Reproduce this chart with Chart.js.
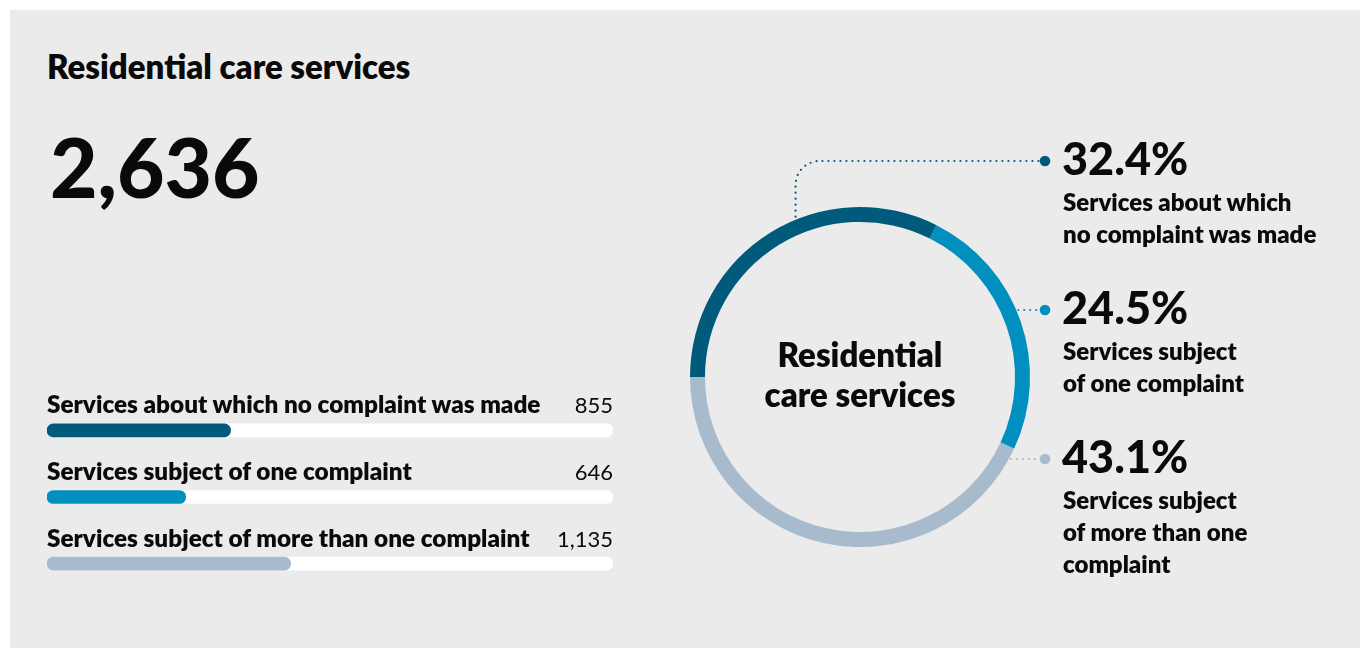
<!DOCTYPE html>
<html>
<head>
<meta charset="utf-8">
<script src="https://cdn.jsdelivr.net/npm/chart.js@4.4.1/dist/chart.umd.min.js"></script>
<style>
  body { margin: 0; width: 1360px; height: 648px; background: #fff; overflow: hidden; font-family: Lato, "Noto Sans", sans-serif; color: #0a0a0a; }
  #panel { position: absolute; left: 10px; top: 10px; right: 0; bottom: 0; background: #ebebeb; }
  .txt { position: absolute; white-space: nowrap; }
  canvas { position: absolute; }
</style>
</head>
<body>
<div id="panel"></div>
<canvas id="bars" width="566" height="200" style="left:47px;top:397px"></canvas>
<canvas id="ring" width="720" height="480" style="left:640px;top:120px"></canvas>

<script>
const title = 'Residential care services';
const total = 2636;
const categories = [
    'Services about which no complaint was made',
    'Services subject of one complaint',
    'Services subject of more than one complaint'
];
const counts = [855, 646, 1135];
const countLabels = ['855', '646', '1,135'];
const percentLabels = ['32.4%', '24.5%', '43.1%'];
const calloutLines = [
    ['Services about which', 'no complaint was made'],
    ['Services subject', 'of one complaint'],
    ['Services subject', 'of more than one', 'complaint']
];
const centreLines = ['Residential', 'care services'];
const colours = ['#005a7b', '#008fbf', '#a7bbcc'];

// put a line of text with its baseline at y (Lato metrics, line-height = font size)
function addText(str, x, baseline, size, weight, align) {
    const d = document.createElement('div');
    d.className = 'txt';
    d.textContent = str;
    d.style.fontSize = size + 'px';
    d.style.lineHeight = size + 'px';
    d.style.fontWeight = weight;
    d.style.top = (baseline - 0.887 * size) + 'px';
    if (align === 'right') {
        d.style.right = (1360 - x) + 'px';
    } else if (align === 'center') {
        d.style.left = (x - 300) + 'px';
        d.style.width = '600px';
        d.style.textAlign = 'center';
    } else {
        d.style.left = x + 'px';
    }
    document.body.appendChild(d);
}

addText(title, 47, 79, 33, 800);
addText(total.toLocaleString('en-US'), 50, 198, 82, 900);

// horizontal progress bars
const barsCanvas = document.getElementById('bars');
const barChart = new Chart(barsCanvas, {
    type: 'bar',
    data: {
        labels: categories,
        datasets: [{
            data: counts,
            backgroundColor: colours,
            borderRadius: 7,
            borderSkipped: false,
            barThickness: 13,
            grouped: false,
            order: 0
        }, {
            data: categories.map(() => total),
            backgroundColor: '#ffffff',
            borderRadius: 7,
            borderSkipped: false,
            barThickness: 13,
            grouped: false,
            order: 1
        }]
    },
    options: {
        indexAxis: 'y',
        responsive: false,
        animation: false,
        events: [],
        layout: { padding: 0 },
        scales: {
            x: { display: false, min: 0, max: total },
            y: { display: false }
        },
        plugins: { legend: { display: false }, tooltip: { enabled: false } }
    }
});

categories.forEach((cat, i) => {
    const yc = 397 + barChart.scales.y.getPixelForValue(i);
    addText(cat, 47, yc - 16.5, 24.3, 800);
    addText(countLabels[i], 613, yc - 16.5, 22, 400, 'right');
});

// doughnut with dotted callouts
const ringLeft = 640, ringTop = 120;
const dotX = 1045;
const dotY = [161, 310, 459];

const callouts = {
    id: 'callouts',
    afterDatasetsDraw(chart) {
        const ctx = chart.ctx;
        const arcs = chart.getDatasetMeta(0).data;
        const dx = dotX - ringLeft;
        arcs.forEach((arc, i) => {
            const col = colours[i];
            const cy = arc.y, cx = arc.x, r = arc.outerRadius;
            const ty = dotY[i] - ringTop;
            ctx.save();
            ctx.strokeStyle = col;
            ctx.lineWidth = 2.2;
            ctx.lineCap = 'round';
            ctx.setLineDash([0, 6]);
            ctx.beginPath();
            if (i === 0) {
                const a = arc.startAngle + 0.58 * (arc.endAngle - arc.startAngle);
                const ax = cx + r * Math.cos(a);
                const ay = cy + r * Math.sin(a);
                const cr = 24;
                ctx.moveTo(ax, ay - 3);
                ctx.lineTo(ax, ty + cr);
                ctx.arcTo(ax, ty, ax + cr, ty, cr);
                ctx.lineTo(dx - 6, ty);
            } else {
                const ex = cx + Math.sqrt(r * r - (ty - cy) * (ty - cy));
                ctx.moveTo(ex + 2, ty);
                ctx.lineTo(dx - 6, ty);
            }
            ctx.stroke();
            ctx.setLineDash([]);
            ctx.fillStyle = col;
            ctx.beginPath();
            ctx.arc(dx, ty, 5.3, 0, Math.PI * 2);
            ctx.fill();
            ctx.restore();
        });
    }
};

new Chart(document.getElementById('ring'), {
    type: 'doughnut',
    data: {
        labels: categories,
        datasets: [{
            data: counts,
            backgroundColor: colours,
            borderWidth: 0
        }]
    },
    options: {
        responsive: false,
        animation: false,
        events: [],
        rotation: -90,
        cutout: '91.2%',
        layout: { padding: { left: 50, top: 87, right: 330, bottom: 53 } },
        plugins: { legend: { display: false }, tooltip: { enabled: false } }
    },
    plugins: [callouts]
});

centreLines.forEach((line, k) => addText(line, 860, 367 + 40 * k, 33, 800, 'center'));

percentLabels.forEach((p, i) => {
    const base = dotY[i] + 15;
    addText(p, 1062, base, 45, 900);
    calloutLines[i].forEach((line, k) => addText(line, 1063, base + 35 + 32 * k, 24, 800));
});
</script>
</body>
</html>
